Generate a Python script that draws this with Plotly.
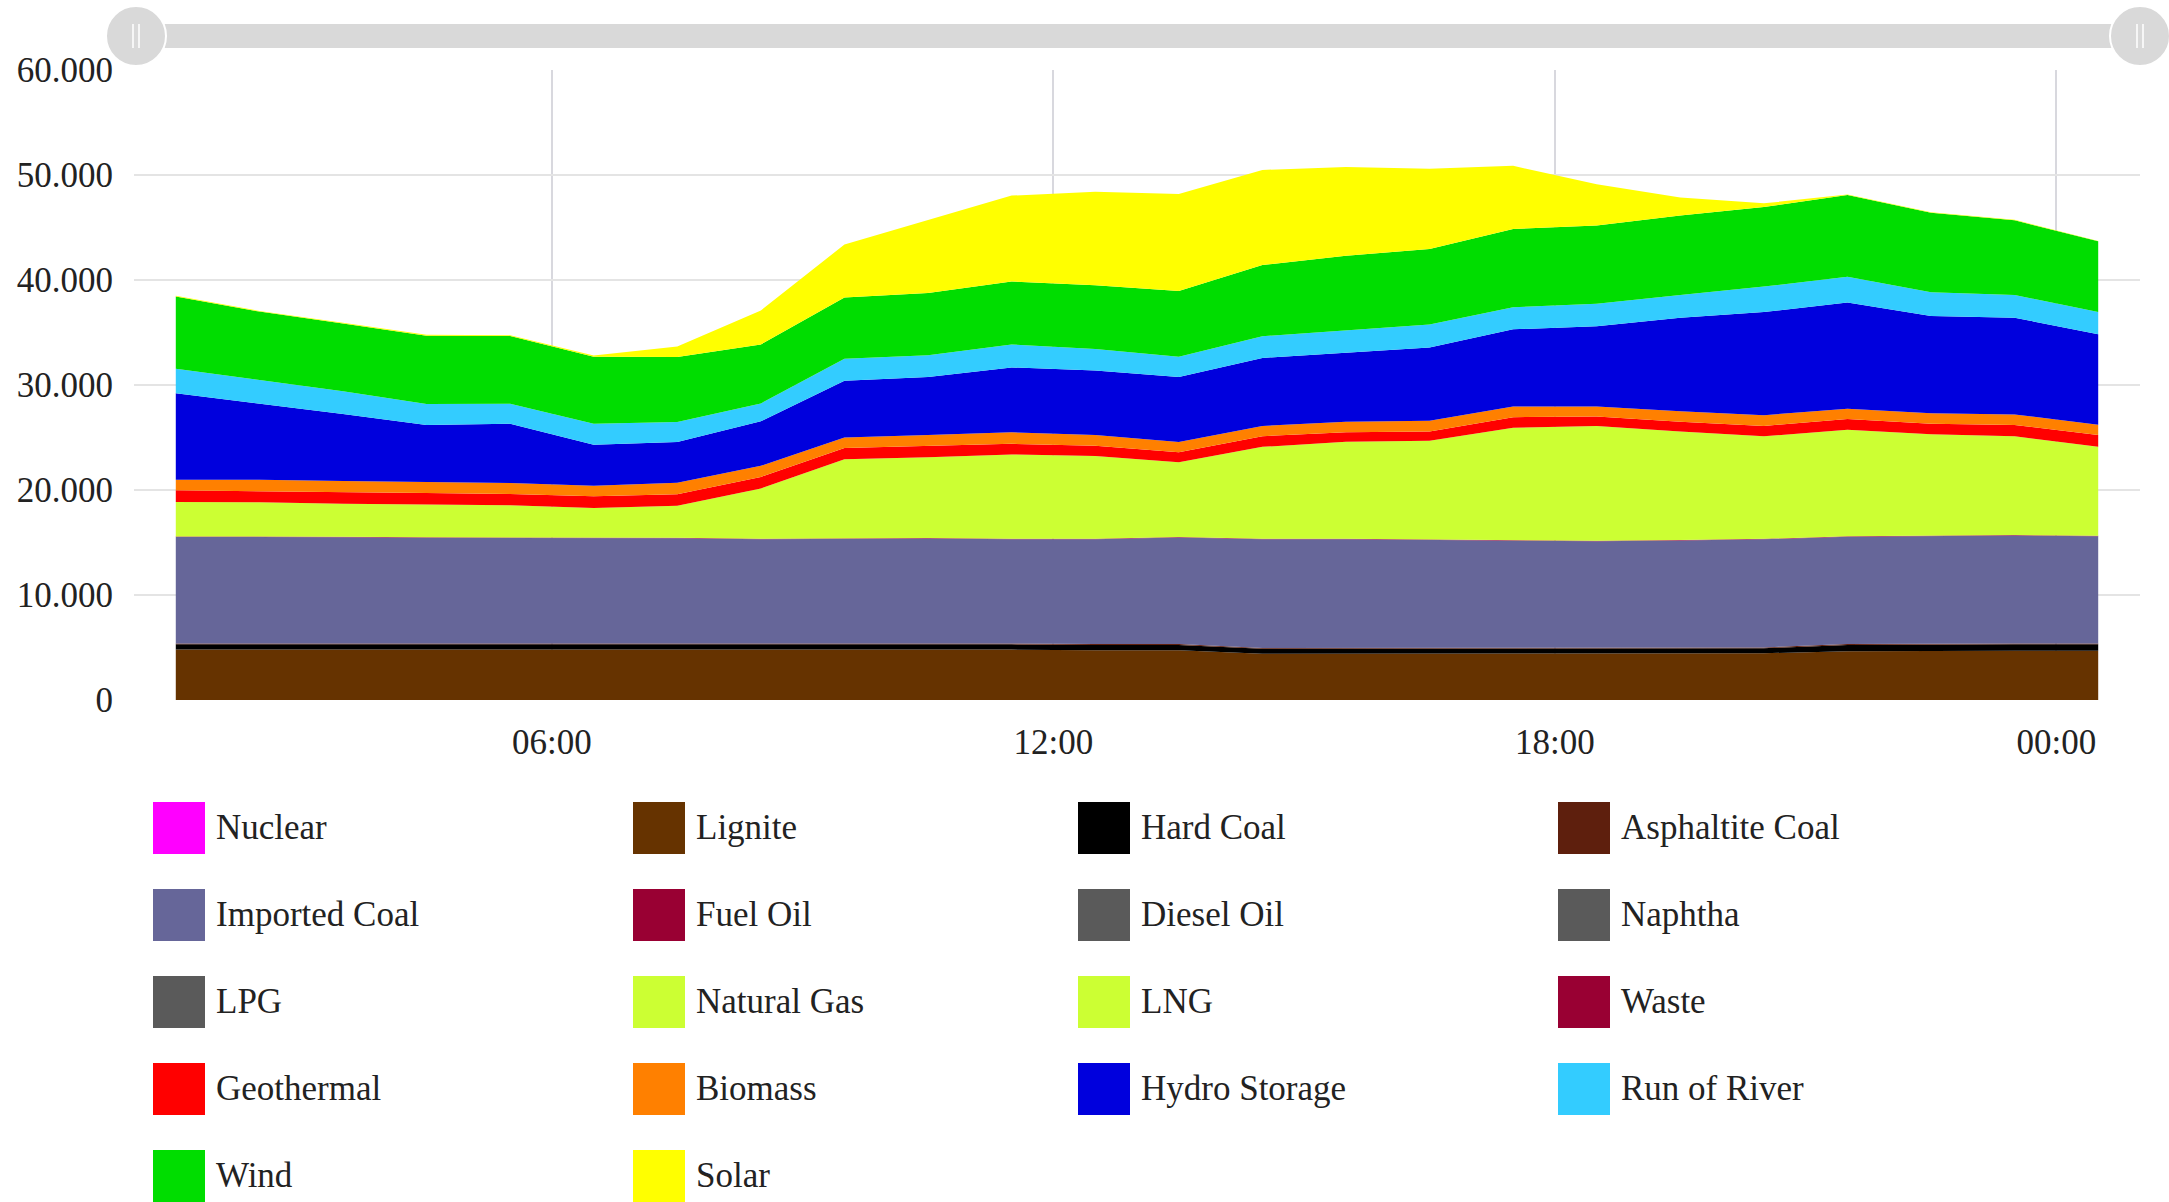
import plotly.graph_objects as go
import pandas as pd

# ---------------- data (MW) ----------------
hour_labels = ["01:00", "02:00", "03:00", "04:00", "05:00", "06:00", "07:00", "08:00",
               "09:00", "10:00", "11:00", "12:00", "13:00", "14:00", "15:00", "16:00",
               "17:00", "18:00", "19:00", "20:00", "21:00", "22:00", "23:00", "00:00"]

nuclear = [0] * 24
lignite = [4800, 4800, 4800, 4800, 4800, 4800, 4800, 4800, 4850, 4850, 4800, 4750,
           4750, 4400, 4400, 4400, 4400, 4400, 4450, 4450, 4650, 4700, 4700, 4700]
hard_coal = [500, 500, 500, 500, 500, 500, 500, 500, 500, 500, 500, 500,
             500, 480, 480, 480, 480, 480, 480, 480, 600, 600, 600, 600]
asphaltite_coal = [80] * 24
imported_coal = [10150, 10150, 10120, 10070, 10070, 10070, 10020, 9920, 9940, 9940, 9920, 9970,
                 10150, 10340, 10340, 10270, 10160, 10160, 10180, 10290, 10220, 10220, 10280, 10220]
fuel_oil = [50] * 24
diesel_oil = [0] * 24
naphtha = [0] * 24
lpg = [0] * 24
natural_gas = [3280, 3250, 3150, 3100, 3040, 2790, 3050, 4800, 7520, 7710, 8030, 7890,
               7120, 8760, 9250, 9410, 10750, 10930, 10320, 9770, 10140, 9650, 9410, 8460]
lng = [0] * 24
waste = [0] * 24
geothermal = [1110, 1070, 1100, 1120, 1080, 1110, 1100, 1100, 1060, 1090, 1020, 980,
              950, 1020, 900, 880, 1020, 900, 940, 980, 1020, 1000, 1080, 1130]
biomass = [1010, 1080, 1050, 1050, 1050, 1010, 1100, 1050, 1000, 1020, 1090, 1020,
           980, 970, 1000, 1030, 1020, 960, 1000, 1030, 980, 1000, 1000, 980]
hydro_storage = [8240, 7260, 6380, 5430, 5630, 3890, 3860, 4250, 5400, 5530, 6180, 6140,
                 6190, 6480, 6560, 6970, 7340, 7640, 8900, 9820, 10110, 9280, 9200, 8620]
run_of_river = [2320, 2260, 2170, 2000, 1910, 2000, 1910, 1700, 2100, 2070, 2190, 2040,
                1930, 2070, 2180, 2190, 2100, 2150, 2180, 2430, 2450, 2260, 2180, 2110]
wind = [6880, 6490, 6450, 6500, 6460, 6400, 6190, 5610, 5830, 5930, 6000, 6080,
        6250, 6770, 7060, 7190, 7450, 7450, 7570, 7570, 7800, 7560, 7100, 6730]
solar = [90, 60, 70, 80, 80, 100, 1000, 3240, 5050, 6910, 8180, 8900,
         9250, 9060, 8470, 7650, 6020, 3930, 1710, 350, 50, 50, 50, 40]

series_names = ["Nuclear", "Lignite", "Hard Coal", "Asphaltite Coal", "Imported Coal",
                "Fuel Oil", "Diesel Oil", "Naphtha", "LPG", "Natural Gas", "LNG", "Waste",
                "Geothermal", "Biomass", "Hydro Storage", "Run of River", "Wind", "Solar"]
series_values = [nuclear, lignite, hard_coal, asphaltite_coal, imported_coal, fuel_oil,
                 diesel_oil, naphtha, lpg, natural_gas, lng, waste, geothermal, biomass,
                 hydro_storage, run_of_river, wind, solar]
series_colors = ["#ff00ff", "#663300", "#000000", "#5e1f0d", "#666699", "#990033",
                 "#5a5a5a", "#5a5a5a", "#5a5a5a", "#ccff33", "#ccff33", "#990033",
                 "#ff0000", "#ff8000", "#0000dd", "#33ccff", "#00dd00", "#ffff00"]

y_ticks = [0, 10000, 20000, 30000, 40000, 50000, 60000]

# ---------------- figure ----------------
W, H = 2169, 1202
ML, MR, MT, MB = 134, 29, 70, 502
PW, PH = W - ML - MR, H - MT - MB
FONT = "Times New Roman, Liberation Serif, serif"

base = pd.Timestamp("2024-06-01")
def hour_of(lbl):
    h = int(lbl.split(":")[0])
    return 24 if h == 0 else h
# data items sit in the middle of their hourly cell
x = [base + pd.Timedelta(hours=hour_of(l)) + pd.Timedelta(minutes=30) for l in hour_labels]

fig = go.Figure()
for name, vals, col in zip(series_names, series_values, series_colors):
    fig.add_trace(go.Scatter(
        x=x, y=vals, name=name, mode="lines", stackgroup="one",
        line=dict(width=0, color=col), fillcolor=col, showlegend=False,
    ))

def px(v):
    return (v - ML) / PW

def py(v):
    return (MT + PH - v) / PH

shapes = []
annotations = []

# scrollbar at top
shapes.append(dict(type="rect", xref="paper", yref="paper", x0=px(136), x1=px(2140),
                   y0=py(48), y1=py(24), fillcolor="#d9d9d9", line=dict(width=0), layer="above"))
for cx in (136, 2140):
    shapes.append(dict(type="circle", xref="paper", yref="paper", x0=px(cx - 30), x1=px(cx + 30),
                       y0=py(66), y1=py(6), fillcolor="#d9d9d9",
                       line=dict(color="#ffffff", width=2), layer="above"))
    for dx in (-3, 3):
        shapes.append(dict(type="line", xref="paper", yref="paper", x0=px(cx + dx), x1=px(cx + dx),
                           y0=py(48), y1=py(24), line=dict(color="#ffffff", width=1.5), layer="above"))

# legend (custom, 4 columns)
col_left = [153, 633, 1078, 1558]
row_center = [828, 915, 1002, 1089, 1176]
SW = 52
for k, (name, col) in enumerate(zip(series_names, series_colors)):
    r, c = divmod(k, 4)
    x0 = col_left[c]
    yc = row_center[r]
    shapes.append(dict(type="rect", xref="paper", yref="paper", x0=px(x0), x1=px(x0 + SW),
                       y0=py(yc + SW / 2), y1=py(yc - SW / 2), fillcolor=col,
                       line=dict(width=0), layer="above"))
    annotations.append(dict(xref="paper", yref="paper", x=px(x0 + SW + 9), y=py(yc - 1),
                            xanchor="left", yanchor="middle", text=name, showarrow=False,
                            font=dict(family=FONT, size=35, color="#222222")))

fig.update_layout(
    width=W, height=H,
    margin=dict(l=ML, r=MR, t=MT, b=MB, pad=0),
    paper_bgcolor="#ffffff", plot_bgcolor="#ffffff",
    separators=",.",
    showlegend=False,
    shapes=shapes, annotations=annotations,
    font=dict(family=FONT, size=35, color="#222222"),
    xaxis=dict(
        type="date",
        range=[base + pd.Timedelta(hours=1), base + pd.Timedelta(hours=25)],
        tick0=base, dtick=6 * 3600 * 1000, tickformat="%H:%M",
        showgrid=True, gridcolor="#d8d8de", gridwidth=2,
        zeroline=False, showline=False, ticks="",
        ticklabelstandoff=18,
        tickfont=dict(family=FONT, size=35, color="#222222"),
    ),
    yaxis=dict(
        range=[0, 60000], tickvals=y_ticks, tickformat=",d",
        showgrid=True, gridcolor="#e4e4e4", gridwidth=2,
        zeroline=False, showline=False, ticks="",
        ticklabelstandoff=20,
        tickfont=dict(family=FONT, size=35, color="#222222"),
    ),
)

fig.write_html("out.html")
